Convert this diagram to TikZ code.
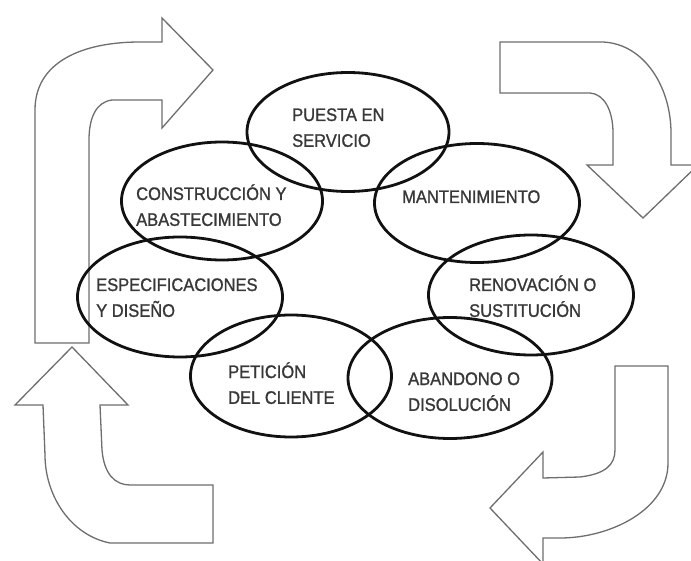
\documentclass[tikz,border=0pt]{standalone}
\usepackage{fontspec}
\setmainfont{Liberation Sans}
\newfontfamily\stagefont[FakeBold=1.2]{Liberation Sans}
\usetikzlibrary{shapes.geometric}
\definecolor{ringline}{HTML}{111111}
\definecolor{labeltext}{HTML}{383838}
\definecolor{arrowline}{HTML}{6E6E6E}
\tikzset{
  ring/.style={draw=ringline, ellipse, line width=2.8pt, inner sep=0pt},
  stage/.style={anchor=base west, inner sep=0pt, text=labeltext,
    font=\stagefont\fontsize{16.5}{23.5}\selectfont},
  bentarrow/.style={draw=arrowline, fill=white, line width=1.3pt, line join=miter}
}
\newcommand{\stagetext}[1]{\scalebox{1}[1.1]{\begin{tabular}[t]{@{}l@{}}#1\end{tabular}}}
\begin{document}
\begin{tikzpicture}[x=1pt,y=-1pt]
\useasboundingbox (0,0) rectangle (691,561);
\clip (0,0) rectangle (691,561);
\fill[white] (0,0) rectangle (691,561);

% bent block arrows in the four corners
\path[bentarrow] (35,343) -- (35,110) .. controls (35,62) and (82,42) .. (140,42)
  -- (162,42) -- (162,18) -- (213,70) -- (162,128) -- (162,100) -- (112,100)
  .. controls (96,102) and (89,118) .. (89,140) -- (89,343) -- cycle;
\path[bentarrow] (500,42) -- (603,42) .. controls (645,44) and (671,88) .. (671,133)
  -- (671,165) -- (698,165) -- (643,218) -- (587,165) -- (613,165) -- (613,133)
  .. controls (613,110) and (604,94) .. (590,93) -- (500,93) -- cycle;
\path[bentarrow] (213,543) -- (110,543) .. controls (70,535) and (45,495) .. (45,455)
  -- (43,405) -- (15,405) -- (72,347) -- (128,405) -- (100,405) -- (102,450)
  .. controls (104,474) and (115,485) .. (130,485) -- (213,485) -- cycle;
\path[bentarrow] (615,366) -- (668,366) -- (668,463) .. controls (668,510) and (610,538) .. (560,538)
  -- (543,538) -- (543,564) -- (490,508) -- (543,452) -- (543,478) -- (580,477)
  .. controls (605,474) and (615,465) .. (615,450) -- cycle;

% overlapping stages of the life cycle
\node[ring, minimum width=202pt, minimum height=119pt] (puesta) at (348,132) {};
\node[ring, minimum width=201pt, minimum height=118pt] (construccion) at (222,201) {};
\node[ring, minimum width=205pt, minimum height=119pt] (mantenimiento) at (477,203) {};
\node[ring, minimum width=205pt, minimum height=120pt] (especificaciones) at (180,297) {};
\node[ring, minimum width=205pt, minimum height=120pt] (renovacion) at (531,295) {};
\node[ring, minimum width=201pt, minimum height=122pt] (peticion) at (291,376) {};
\node[ring, minimum width=204pt, minimum height=121pt] (abandono) at (450,378) {};

% stage labels
\node[stage] (tpuesta) at (292,121) {\stagetext{PUESTA EN\\SERVICIO}};
\node[stage] (tconstruccion) at (136,200) {\stagetext{CONSTRUCCIÓN Y\\ABASTECIMIENTO}};
\node[stage] (tmantenimiento) at (402,203) {\stagetext{MANTENIMIENTO}};
\node[stage] (tespecificaciones) at (96,291) {\stagetext{ESPECIFICACIONES\\Y DISEÑO}};
\node[stage] (trenovacion) at (469,291) {\stagetext{RENOVACIÓN O\\SUSTITUCIÓN}};
\node[stage] (tpeticion) at (228,378) {\stagetext{PETICIÓN\\DEL CLIENTE}};
\node[stage] (tabandono) at (408,385) {\stagetext{ABANDONO O\\DISOLUCIÓN}};
\end{tikzpicture}
\end{document}
